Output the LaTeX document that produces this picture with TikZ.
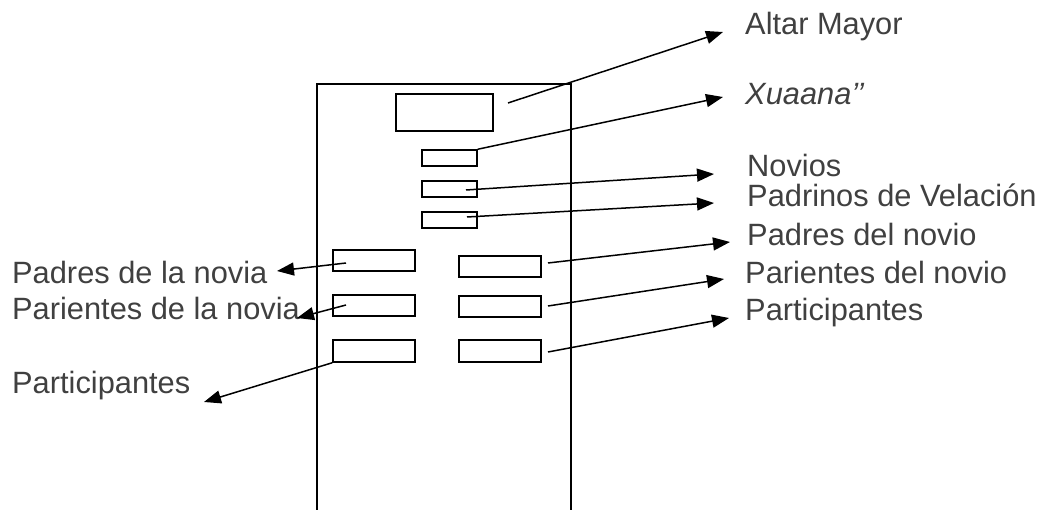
\documentclass[tikz,border=0pt]{standalone}
\usepackage{fontspec}
\setmainfont{Liberation Sans}
\usetikzlibrary{arrows.meta}
\definecolor{labelgray}{RGB}{64,64,64}
\begin{document}
\begin{tikzpicture}[x=1pt,y=-1pt,
  seat/.style={draw, line width=1.5pt, inner sep=0pt},
  lbl/.style={anchor=base west, inner sep=0pt, text=labelgray,
              font=\fontsize{30.8}{36}\selectfont},
  pointer/.style={line width=1.5pt, -{Triangle[length=17pt,width=13pt]}},
  wall/.style={line width=1.5pt}]
\useasboundingbox (0,0) rectangle (1044,510);

% church nave (open at the bottom)
\draw[wall] (317,510) -- (317,84) -- (571,84) -- (571,510);

% altar and central places
\node[seat, minimum width=97pt, minimum height=37pt] (altar) at (444.5,112.5) {};
\node[seat, minimum width=55pt, minimum height=16pt] (xuaana) at (449.5,158) {};
\node[seat, minimum width=55pt, minimum height=16pt] (novios) at (449.5,189) {};
\node[seat, minimum width=55pt, minimum height=16pt] (padrinos) at (449.5,220) {};

% pews, bride's side
\node[seat, minimum width=82pt, minimum height=21pt] (L1) at (374,260.5) {};
\node[seat, minimum width=82pt, minimum height=21pt] (L2) at (374,305.5) {};
\node[seat, minimum width=82pt, minimum height=22pt] (L3) at (374,351) {};

% pews, groom's side
\node[seat, minimum width=82pt, minimum height=21pt] (R1) at (500,266.5) {};
\node[seat, minimum width=82pt, minimum height=21pt] (R2) at (500,306.5) {};
\node[seat, minimum width=82pt, minimum height=22pt] (R3) at (500,351) {};

% labels
\node[lbl] (tAltar) at (745,35) {Altar Mayor};
\node[lbl] (tXuaana) at (745,105) {\itshape Xuaana’’};
\node[lbl] (tNovios) at (747,177) {Novios};
\node[lbl] (tPadrinos) at (747,207) {Padrinos de Velación};
\node[lbl] (tPadresNovio) at (747,246) {Padres del novio};
\node[lbl] (tParientesNovio) at (745,284) {Parientes del novio};
\node[lbl] (tPartR) at (745,321) {Participantes};
\node[lbl] (tPadresNovia) at (12,284) {Padres de la novia};
\node[lbl] (tParientesNovia) at (12,320) {Parientes de la novia};
\node[lbl] (tPartL) at (12,393) {Participantes};

% arrow start points
\coordinate (sAltar) at (508,103);
\coordinate (sNovios) at (466,190);
\coordinate (sPadrinos) at (467,217);
\coordinate (sL1) at (346,263);
\coordinate (sL2) at (346,305);
\coordinate (sR1) at (548,263);
\coordinate (sR2) at (548,306);
\coordinate (sR3) at (548,352);

% arrow tips beside the labels
\coordinate (eAltar) at (723,32);
\coordinate (eXuaana) at (723,97);
\coordinate (eNovios) at (714,174);
\coordinate (ePadrinos) at (714,203);
\coordinate (ePadresNovio) at (730,242);
\coordinate (eParientesNovio) at (724,279);
\coordinate (ePartR) at (729,318);
\coordinate (ePadresNovia) at (277,271);
\coordinate (eParientesNovia) at (297,318);
\coordinate (ePartL) at (204,402);

\draw[pointer] (sAltar) -- (eAltar);
\draw[pointer] (xuaana.north east) -- (eXuaana);
\draw[pointer] (sNovios) -- (eNovios);
\draw[pointer] (sPadrinos) -- (ePadrinos);
\draw[pointer] (sR1) -- (ePadresNovio);
\draw[pointer] (sR2) -- (eParientesNovio);
\draw[pointer] (sR3) -- (ePartR);
\draw[pointer] (sL1) -- (ePadresNovia);
\draw[pointer] (sL2) -- (eParientesNovia);
\draw[pointer] (L3.south west) -- (ePartL);
\end{tikzpicture}
\end{document}
